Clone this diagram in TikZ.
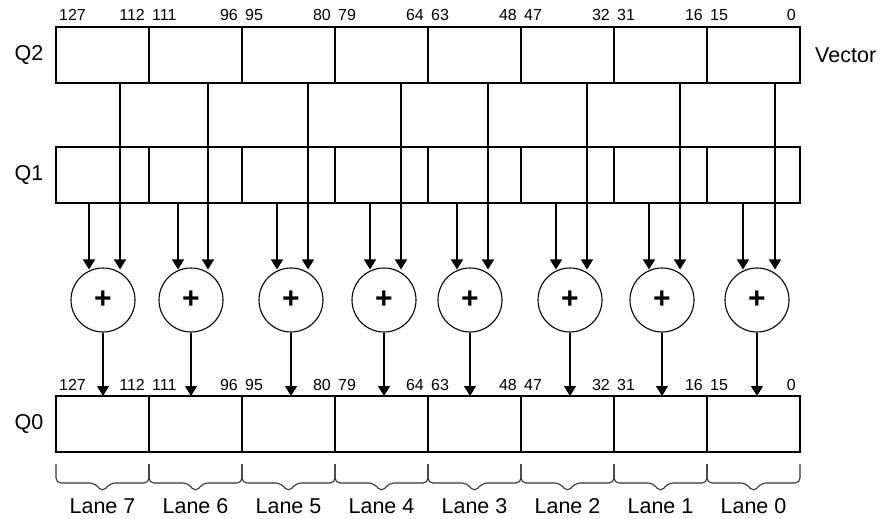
\documentclass[tikz,border=0pt]{standalone}
\usepackage{fontspec}
\setmainfont{Liberation Sans}
\usetikzlibrary{arrows.meta,calc}
\begin{document}
\begin{tikzpicture}[x=1pt,y=-1pt,
  cell/.style={draw, line width=1.8pt, minimum width=93pt, minimum height=56pt, inner sep=0pt, outer sep=0pt},
  adder/.style={draw, circle, line width=1.1pt, minimum size=64pt, inner sep=0pt,
    font=\fontsize{30}{30}\selectfont\bfseries},
  arr/.style={line width=1.3pt, -{Triangle[length=10pt,width=12pt]}},
  bitno/.style={font=\fontsize{16}{16}\selectfont, inner sep=0pt},
  reglabel/.style={font=\fontsize{21.5}{21.5}\selectfont, inner sep=0pt},
  lanelabel/.style={font=\fontsize{21.5}{21.5}\selectfont, inner sep=0pt},
  lanebrace/.style={line width=1.1pt, draw=black!80, rounded corners=5pt},
]
\useasboundingbox (0,0) rectangle (889,519);

% register cells, lane 7 on the left
\foreach \k in {0,...,7} {
  \node[cell] (q2-\k) at ({102.5+93*\k},55) {};
  \node[cell] (q1-\k) at ({102.5+93*\k},175) {};
  \node[cell] (q0-\k) at ({102.5+93*\k},424) {};
}

% register names
\node[reglabel] (lq2) at (29,55) {Q2};
\node[reglabel] (lq1) at (29,175) {Q1};
\node[reglabel] (lq0) at (29,424) {Q0};
\node[reglabel, anchor=west] (lvec) at (815,55) {Vector};

% bit numbers above Q2 and Q0
\foreach \k in {0,...,7} {
  \pgfmathtruncatemacro\hib{127-16*\k}
  \pgfmathtruncatemacro\lob{112-16*\k}
  \foreach \r in {q2,q0} {
    \node[bitno, anchor=base west] (\r-hi-\k) at ($(\r-\k.north west)+(3,-6)$) {\hib};
    \node[bitno, anchor=base east] (\r-lo-\k) at ($(\r-\k.north east)+(-4,-6)$) {\lob};
  }
}

% adders with their operand and result connectors
\foreach \k/\qa/\qb/\cx in {0/89/120/103, 1/178/208/191, 2/277/308/291, 3/370/401/384,
                            4/457/488/470, 5/556/587/570, 6/649/680/662, 7/743/775/757} {
  \node[adder] (p-\k) at (\cx,300) {+};
  \coordinate (a-\k) at (\qa,0);
  \coordinate (b-\k) at (\qb,0);
  \draw[arr] (a-\k |- q1-\k.south) -- ($(a-\k |- p-\k.north)+(0,2)$);
  \draw[arr] (b-\k |- q2-\k.south) -- ($(b-\k |- p-\k.north)+(0,2)$);
  \draw[arr] (p-\k.south) -- (p-\k.south |- q0-\k.north);
}

% lane braces and labels
\foreach \k in {0,...,7} {
  \pgfmathtruncatemacro\lane{7-\k}
  \coordinate (m-\k) at ($(q0-\k.south west)!0.5!(q0-\k.south east)$);
  \draw[lanebrace] ($(q0-\k.south west)+(0,12)$) -- ($(q0-\k.south west)+(0,31)$)
    -- ($(m-\k)+(-8,31)$) -- ($(m-\k)+(0,40)$) -- ($(m-\k)+(8,31)$)
    -- ($(q0-\k.south east)+(0,31)$) -- ($(q0-\k.south east)+(0,12)$);
  \node[lanelabel] (lane-\k) at ($(m-\k)+(0,54)$) {Lane \lane};
}
\end{tikzpicture}
\end{document}
